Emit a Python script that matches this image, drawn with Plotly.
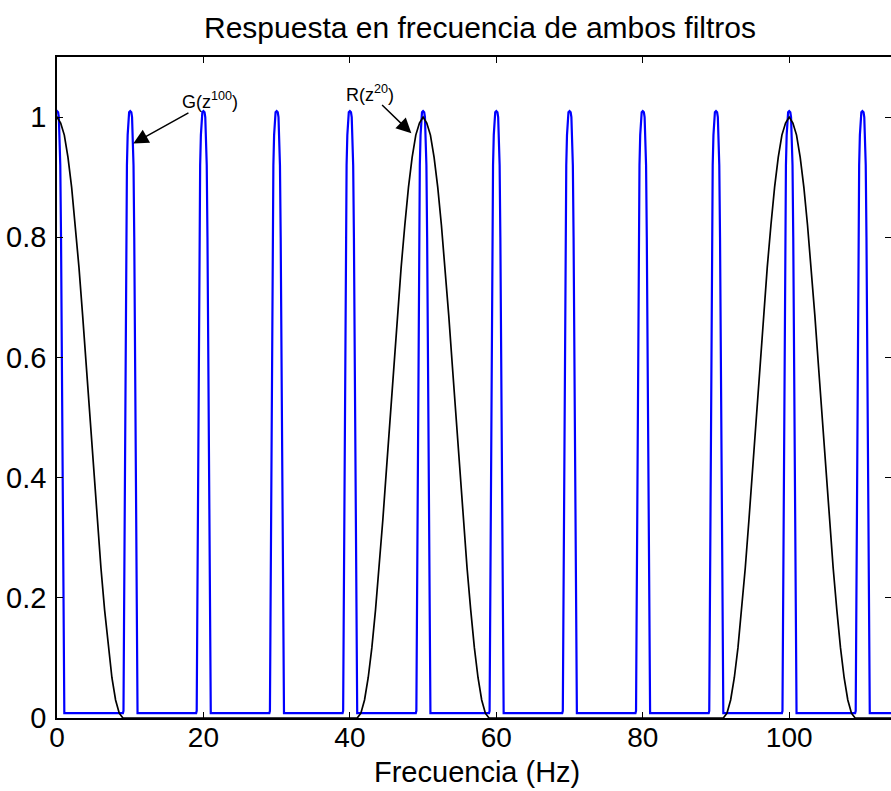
import plotly.graph_objects as go

# ---- data ----
freq_max = 113.9                       # right edge of visible frequency span (Hz)

# G(z^100): narrow blue passbands
blue_centers = [0, 10, 20, 30, 40, 50, 60, 70, 80, 90, 100, 110]
blue_offsets = [0.0, 0.15, 0.25, 0.35, 0.45, 0.55, 0.65, 0.75, 0.85, 0.92, 1.0]
blue_values = [1.01, 1.008, 1.0, 0.97, 0.92, 0.80, 0.60, 0.40, 0.15, 0.012, 0.008]
blue_floor = 0.008

# R(z^20): broad black passbands
black_centers = [0, 50, 100]
black_offsets = [0.0, 0.5, 1.0, 1.5, 2.0, 2.5, 3.0, 3.5, 4.0, 4.5, 5.0,
                 5.5, 6.0, 6.5, 7.0, 7.5, 8.0, 8.5, 9.0]
black_values = [1.0, 0.99, 0.97, 0.933, 0.883, 0.82, 0.75, 0.67, 0.585, 0.5,
                0.415, 0.33, 0.25, 0.18, 0.117, 0.067, 0.03, 0.008, 0.0]
black_floor = 0.0

x_ticks = [0, 20, 40, 60, 80, 100]
x_tick_labels = ["0", "20", "40", "60", "80", "100"]
y_ticks = [0, 0.2, 0.4, 0.6, 0.8, 1.0]
y_tick_labels = ["0", "0.2", "0.4", "0.6", "0.8", "1"]

# callouts: label, label centre (Hz, magnitude), arrow tip (Hz, magnitude)
callout_text = ["G(z<sup>100</sup>)", "R(z<sup>20</sup>)"]
callout_label_pos = [(20.9, 1.027), (42.7, 1.040)]
callout_tip_pos = [(10.42, 0.956), (48.4, 0.973)]


def build(centers, offsets, values, floor, xmax):
    xs, ys = [], []
    for c in centers:
        for o, v in zip(reversed(offsets[1:]), reversed(values[1:])):
            xs.append(c - o)
            ys.append(v)
        for o, v in zip(offsets, values):
            xs.append(c + o)
            ys.append(v)
    xs.append(xmax)
    ys.append(floor)
    return xs, ys


bx, by = build(blue_centers, blue_offsets, blue_values, blue_floor, freq_max)
kx, ky = build(black_centers, black_offsets, black_values, black_floor, freq_max)

FONT = "Liberation Sans, Arial, Helvetica, sans-serif"
W, H = 891, 791
ML, MR, MT, MB = 57, 0, 57, 73
PW = W - ML - MR
PH = H - MT - MB

fig = go.Figure()
fig.add_trace(go.Scatter(x=bx, y=by, mode="lines",
                         line=dict(color="#0000ff", width=2.2),
                         hoverinfo="skip", showlegend=False))
fig.add_trace(go.Scatter(x=kx, y=ky, mode="lines",
                         line=dict(color="#000000", width=1.7),
                         hoverinfo="skip", showlegend=False))

for txt, (lx, ly), (tx, ty) in zip(callout_text, callout_label_pos, callout_tip_pos):
    fig.add_annotation(x=tx, y=ty, ax=lx, ay=ly,
                       axref="x", ayref="y", xref="x", yref="y",
                       text=txt, showarrow=True, arrowhead=2, arrowsize=2,
                       arrowwidth=1.5, arrowcolor="black",
                       standoff=0, borderpad=0,
                       font=dict(family=FONT, size=18, color="black"))

# title
fig.add_annotation(x=(480 - ML) / PW, y=1 + (MT - 27) / PH, xref="paper", yref="paper",
                   xanchor="center", yanchor="middle", showarrow=False,
                   text="Respuesta en frecuencia de ambos filtros",
                   font=dict(family=FONT, size=30, color="black"))
# x axis title
fig.add_annotation(x=(477 - ML) / PW, y=-(772 - (H - MB)) / PH,
                   xref="paper", yref="paper",
                   xanchor="center", yanchor="middle", showarrow=False,
                   text="Frecuencia (Hz)",
                   font=dict(family=FONT, size=29, color="black"))

fig.update_layout(
    width=W, height=H,
    margin=dict(l=ML, r=MR, t=MT, b=MB),
    paper_bgcolor="white", plot_bgcolor="white",
    font=dict(family=FONT, size=28, color="black"),
    xaxis=dict(range=[0, freq_max], tickvals=x_ticks, ticktext=x_tick_labels,
               ticks="inside", ticklen=6, tickwidth=1, tickcolor="black",
               tickfont=dict(family=FONT, size=28, color="black"),
               ticklabelstandoff=-6,
               showline=True, linecolor="black", linewidth=1.5, mirror="ticks",
               showgrid=False, zeroline=False, automargin=False),
    yaxis=dict(range=[0, 1.1], tickvals=y_ticks, ticktext=y_tick_labels,
               ticks="inside", ticklen=6, tickwidth=1, tickcolor="black",
               tickfont=dict(family=FONT, size=29, color="black"),
               ticklabelstandoff=3,
               showline=True, linecolor="black", linewidth=1.5, mirror="ticks",
               showgrid=False, zeroline=False, automargin=False),
)

fig.write_html("out.html",
               config={"displayModeBar": False},
               post_script="document.body.style.margin='0px';"
                           "document.body.style.overflow='hidden';")
